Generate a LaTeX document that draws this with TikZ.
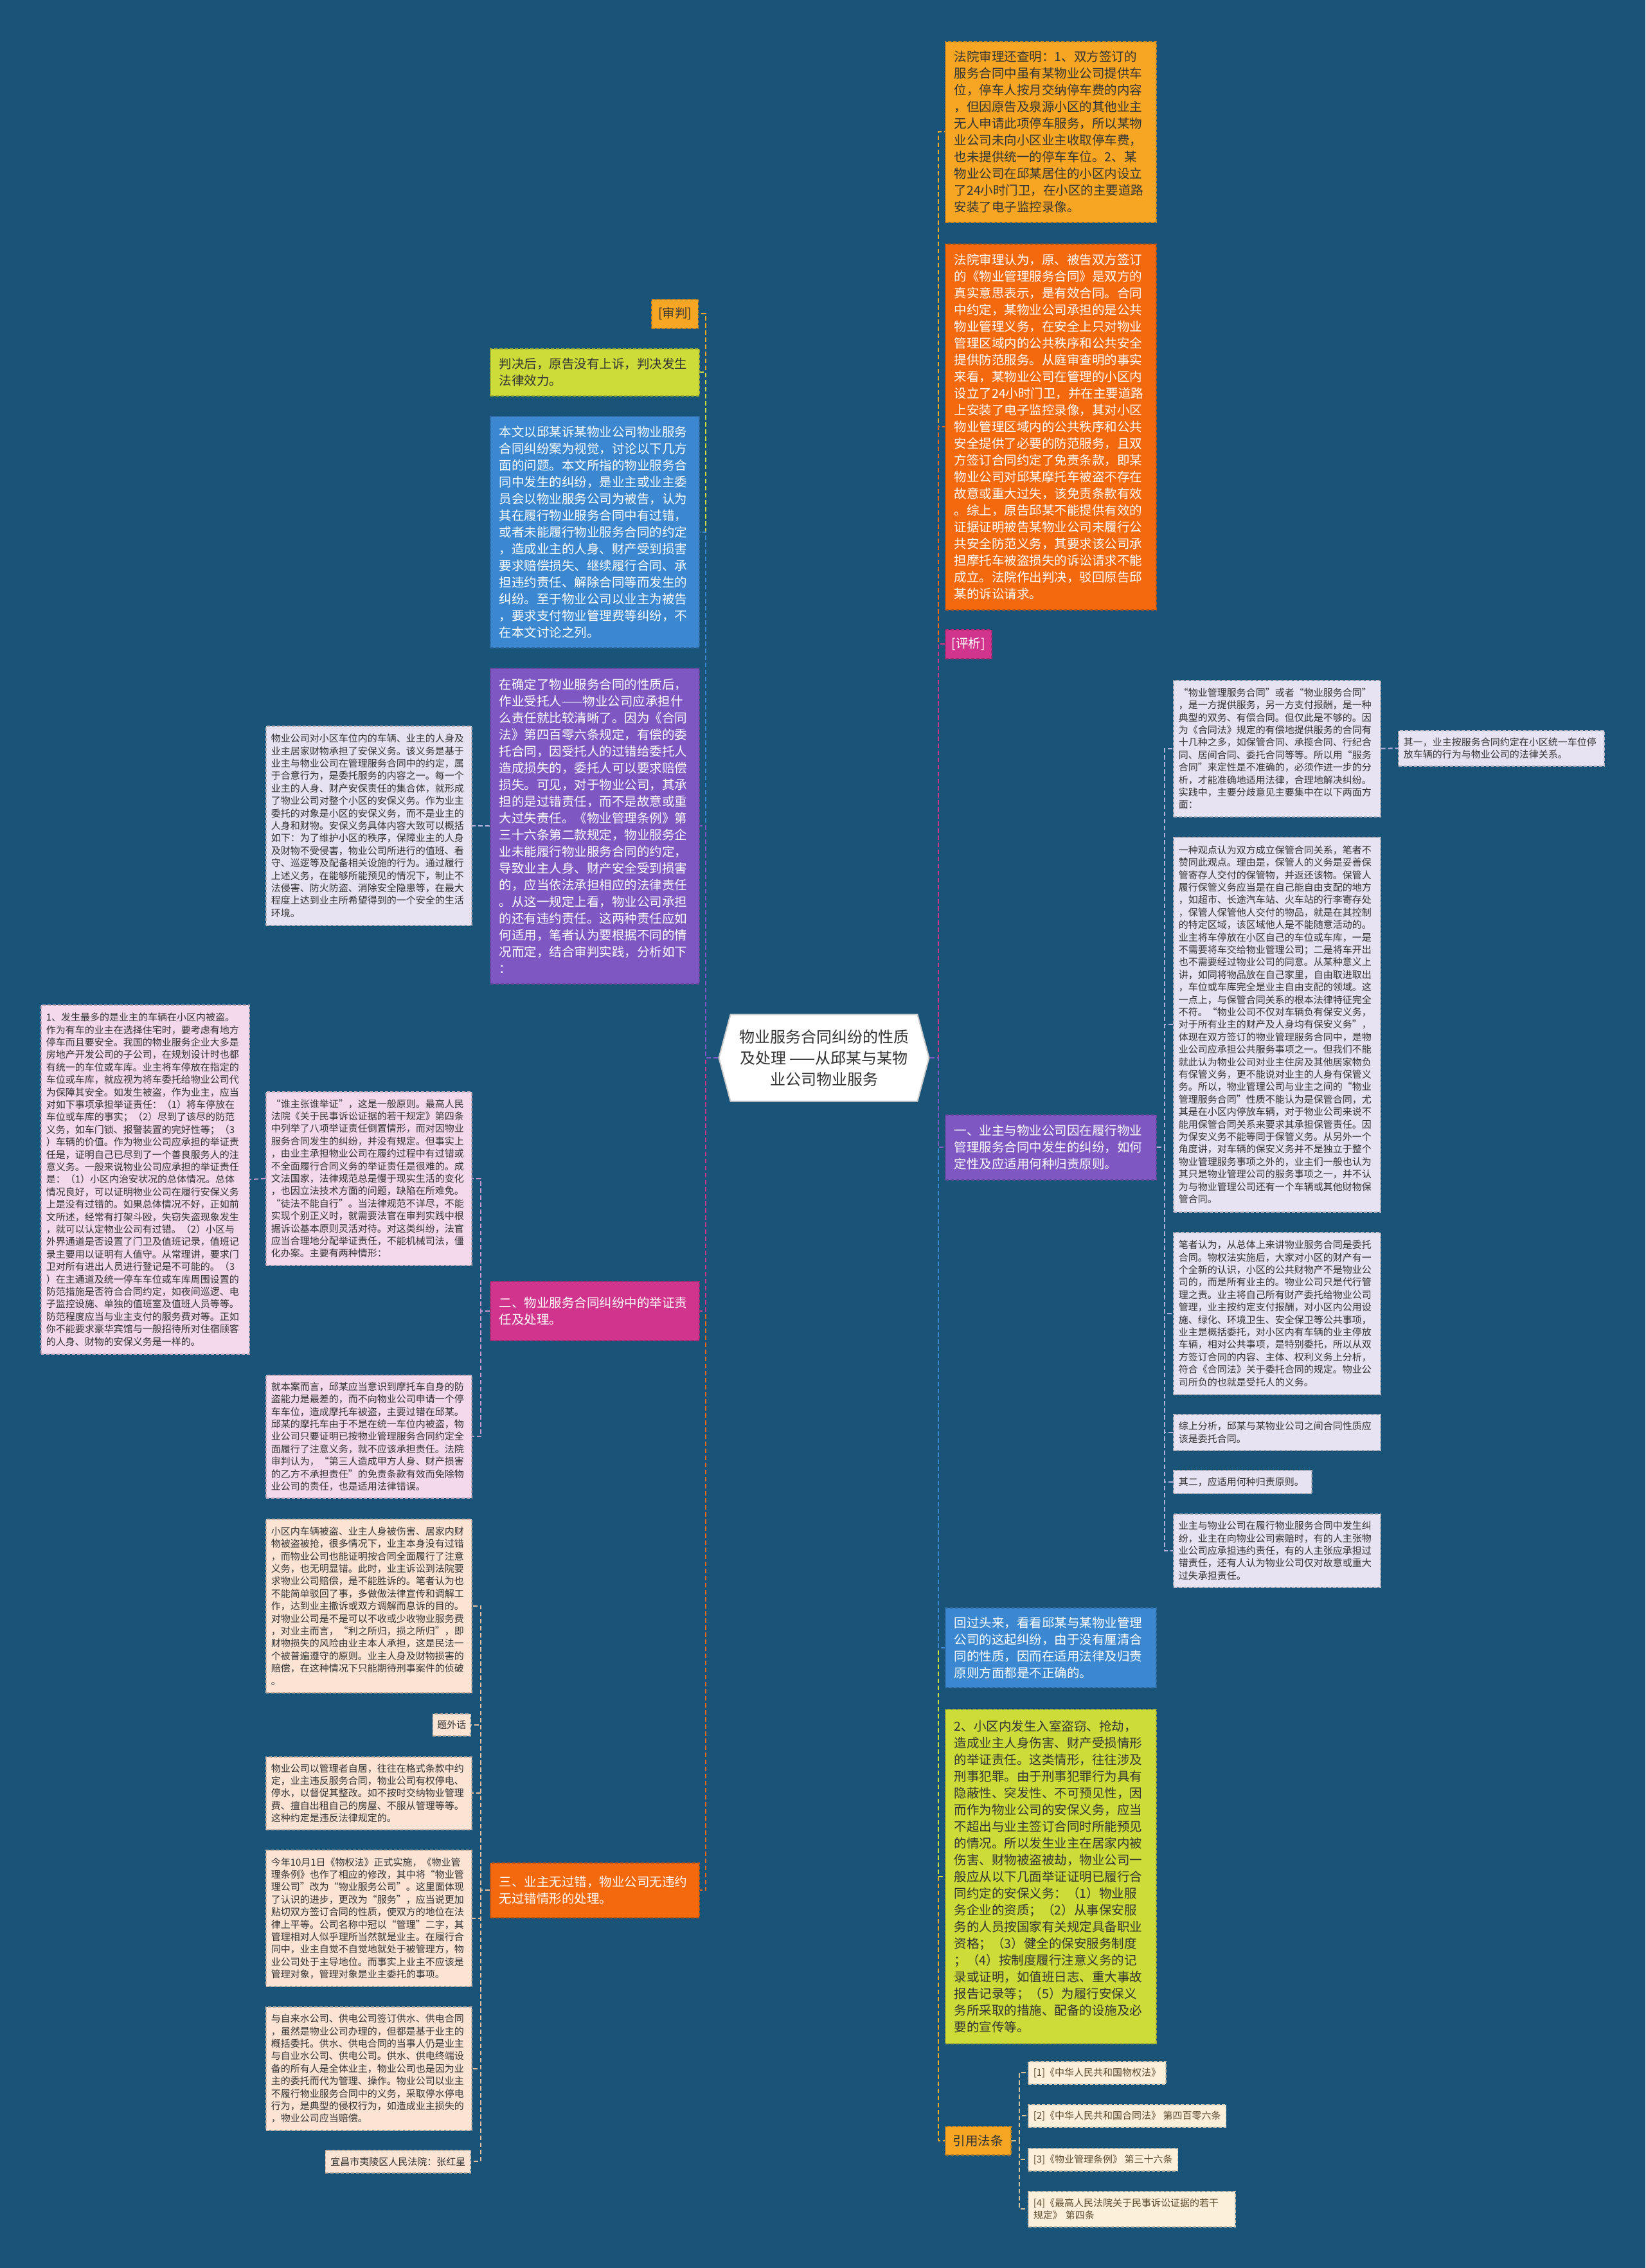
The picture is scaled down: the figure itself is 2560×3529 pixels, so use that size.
\documentclass[tikz,border=0pt]{standalone}
\usepackage{fontspec}
\setmainfont{Noto Sans CJK SC}
\usetikzlibrary{shapes.symbols}

\definecolor{cBg}{HTML}{1A5378}
\definecolor{cAmber}{HTML}{F6A623}
\definecolor{cFlame}{HTML}{F5690E}
\definecolor{cLime}{HTML}{CDDC39}
\definecolor{cSky}{HTML}{3B87D0}
\definecolor{cPurple}{HTML}{7E57C2}
\definecolor{cRose}{HTML}{D1348C}
\definecolor{cLav}{HTML}{E7E3F3}
\definecolor{cBlush}{HTML}{F4D8EC}
\definecolor{cPeach}{HTML}{FCE4D5}
\definecolor{cCream}{HTML}{FDF0DB}
\definecolor{cInk}{HTML}{333333}
\definecolor{cBrown}{HTML}{5B4A2E}
\definecolor{cLavLine}{HTML}{B4AEDC}
\definecolor{cBlushLine}{HTML}{C99AD0}
\definecolor{cPeachLine}{HTML}{E7C0A2}
\definecolor{cCreamLine}{HTML}{D5C197}

\newcommand{\mainsize}{\fontsize{19.5pt}{26pt}\selectfont}
\newcommand{\notesize}{\fontsize{15pt}{19.4pt}\selectfont}
\newcommand{\hubsize}{\fontsize{24pt}{33pt}\selectfont}

\tikzset{
  card/.style={anchor=north west, align=left, inner xsep=14pt, inner ysep=0pt,
    font=\mainsize, text=cInk, fill=#1, draw=#1!80!black, line width=1.5pt,
    dash pattern=on 5pt off 3pt},
  note/.style={card=#1, font=\notesize, inner xsep=8pt},
  link/.style={draw=#1, line width=2pt, dash pattern=on 7pt off 4pt},
  hub/.style={signal, signal to=east and west, signal pointer angle=150,
    fill=white, draw=gray!40, line width=2pt, font=\hubsize, align=center,
    text=cInk, minimum width=327pt, minimum height=135pt},
}

\begin{document}
\begin{tikzpicture}[x=1pt,y=-1pt]
\fill[cBg] (0,0) rectangle (2560,3529);
\useasboundingbox (0,0) rectangle (2560,3529);

% centre
\node[hub] (ctr) at (1282,1646) {物业服务合同纠纷的性质\\及处理 ——从邱某与某物\\业公司物业服务};
\coordinate (trunkL) at (1098,0);
\coordinate (trunkR) at (1460,0);

% right side, first level
\node[card=cAmber, text width=300pt, minimum height=281pt] (R1) at (1470,64) {法院审理还查明：1、双方签订的\\服务合同中虽有某物业公司提供车\\位，停车人按月交纳停车费的内容\\，但因原告及泉源小区的其他业主\\无人申请此项停车服务，所以某物\\业公司未向小区业主收取停车费，\\也未提供统一的停车车位。2、某\\物业公司在邱某居住的小区内设立\\了24小时门卫，在小区的主要道路\\安装了电子监控录像。};
\node[card=cFlame, text=white, text width=300pt, minimum height=569pt] (R2) at (1470,379) {法院审理认为，原、被告双方签订\\的《物业管理服务合同》是双方的\\真实意思表示，是有效合同。合同\\中约定，某物业公司承担的是公共\\物业管理义务，在安全上只对物业\\管理区域内的公共秩序和公共安全\\提供防范服务。从庭审查明的事实\\来看，某物业公司在管理的小区内\\设立了24小时门卫，并在主要道路\\上安装了电子监控录像，其对小区\\物业管理区域内的公共秩序和公共\\安全提供了必要的防范服务，且双\\方签订合同约定了免责条款，即某\\物业公司对邱某摩托车被盗不存在\\故意或重大过失，该免责条款有效\\。综上，原告邱某不能提供有效的\\证据证明被告某物业公司未履行公\\共安全防范义务，其要求该公司承\\担摩托车被盗损失的诉讼请求不能\\成立。法院作出判决，驳回原告邱\\某的诉讼请求。};
\node[card=cRose, text=white, inner xsep=10pt, minimum height=45pt] (R3) at (1470,979) {[评析]};
\node[card=cPurple, text=white, text width=300pt, minimum height=101pt] (R4) at (1470,1734) {一、业主与物业公司因在履行物业\\管理服务合同中发生的纠纷，如何\\定性及应适用何种归责原则。};
\node[card=cSky, text=white, text width=300pt, minimum height=124pt] (R5) at (1470,2501) {回过头来，看看邱某与某物业管理\\公司的这起纠纷，由于没有厘清合\\同的性质，因而在适用法律及归责\\原则方面都是不正确的。};
\node[card=cLime, text width=300pt, minimum height=520pt] (R6) at (1470,2659) {2、小区内发生入室盗窃、抢劫，\\造成业主人身伤害、财产受损情形\\的举证责任。这类情形，往往涉及\\刑事犯罪。由于刑事犯罪行为具有\\隐蔽性、突发性、不可预见性，因\\而作为物业公司的安保义务，应当\\不超出与业主签订合同时所能预见\\的情况。所以发生业主在居家内被\\伤害、财物被盗被劫，物业公司一\\般应从以下几面举证证明已履行合\\同约定的安保义务：（1）物业服\\务企业的资质；（2）从事保安服\\务的人员按国家有关规定具备职业\\资格；（3）健全的保安服务制度\\；（4）按制度履行注意义务的记\\录或证明，如值班日志、重大事故\\报告记录等；（5）为履行安保义\\务所采取的措施、配备的设施及必\\要的宣传等。};
\node[card=cAmber, inner xsep=12pt, minimum height=44pt] (R7) at (1470,3308) {引用法条};

% left side, first level
\node[card=cAmber, anchor=north east, inner xsep=10pt, minimum height=45pt] (L1) at (1087,465) {[审判]};
\node[card=cLime, text width=297pt, minimum height=73pt] (L2) at (762,542) {判决后，原告没有上诉，判决发生\\法律效力。};
\node[card=cSky, text=white, text width=297pt, minimum height=360pt] (L3) at (762,647) {本文以邱某诉某物业公司物业服务\\合同纠纷案为视觉，讨论以下几方\\面的问题。本文所指的物业服务合\\同中发生的纠纷，是业主或业主委\\员会以物业服务公司为被告，认为\\其在履行物业服务合同中有过错，\\或者未能履行物业服务合同的约定\\，造成业主的人身、财产受到损害\\要求赔偿损失、继续履行合同、承\\担违约责任、解除合同等而发生的\\纠纷。至于物业公司以业主为被告\\，要求支付物业管理费等纠纷，不\\在本文讨论之列。};
\node[card=cPurple, text=white, text width=297pt, minimum height=491pt] (L4) at (762,1039) {在确定了物业服务合同的性质后，\\作业受托人——物业公司应承担什\\么责任就比较清晰了。因为《合同\\法》第四百零六条规定，有偿的委\\托合同，因受托人的过错给委托人\\造成损失的，委托人可以要求赔偿\\损失。可见，对于物业公司，其承\\担的是过错责任，而不是故意或重\\大过失责任。《物业管理条例》第\\三十六条第二款规定，物业服务企\\业未能履行物业服务合同的约定，\\导致业主人身、财产安全受到损害\\的，应当依法承担相应的法律责任\\。从这一规定上看，物业公司承担\\的还有违约责任。这两种责任应如\\何适用，笔者认为要根据不同的情\\况而定，结合审判实践，分析如下\\：};
\node[card=cRose, text=white, text width=297pt, minimum height=92pt] (L5) at (762,1993) {二、物业服务合同纠纷中的举证责\\任及处理。};
\node[card=cFlame, text=white, text width=297pt, minimum height=85pt] (L6) at (762,2898) {三、业主无过错，物业公司无违约\\无过错情形的处理。};

% right side, second level
\node[note=cLav, text width=306pt, minimum height=212pt] (A1) at (1825,1058) {“物业管理服务合同”或者“物业服务合同”\\，是一方提供服务，另一方支付报酬，是一种\\典型的双务、有偿合同。但仅此是不够的。因\\为《合同法》规定的有偿地提供服务的合同有\\十几种之多，如保管合同、承揽合同、行纪合\\同、居间合同、委托合同等等。所以用“服务\\合同”来定性是不准确的，必须作进一步的分\\析，才能准确地适用法律，合理地解决纠纷。\\实践中，主要分歧意见主要集中在以下两面方\\面：};
\node[note=cLav, text width=304pt, minimum height=55pt] (A7) at (2175,1136) {其一，业主按服务合同约定在小区统一车位停\\放车辆的行为与物业公司的法律关系。};
\node[note=cLav, text width=306pt, minimum height=583pt] (A2) at (1825,1302) {一种观点认为双方成立保管合同关系，笔者不\\赞同此观点。理由是，保管人的义务是妥善保\\管寄存人交付的保管物，并返还该物。保管人\\履行保管义务应当是在自己能自由支配的地方\\，如超市、长途汽车站、火车站的行李寄存处\\，保管人保管他人交付的物品，就是在其控制\\的特定区域，该区域他人是不能随意活动的。\\业主将车停放在小区自己的车位或车库，一是\\不需要将车交给物业管理公司；二是将车开出\\也不需要经过物业公司的同意。从某种意义上\\讲，如同将物品放在自己家里，自由取进取出\\，车位或车库完全是业主自由支配的领域。这\\一点上，与保管合同关系的根本法律特征完全\\不符。“物业公司不仅对车辆负有保安义务，\\对于所有业主的财产及人身均有保安义务”，\\体现在双方签订的物业管理服务合同中，是物\\业公司应承担公共服务事项之一。但我们不能\\就此认为物业公司对业主住房及其他居家物负\\有保管义务，更不能说对业主的人身有保管义\\务。所以，物业管理公司与业主之间的“物业\\管理服务合同”性质不能认为是保管合同，尤\\其是在小区内停放车辆，对于物业公司来说不\\能用保管合同关系来要求其承担保管责任。因\\为保安义务不能等同于保管义务。从另外一个\\角度讲，对车辆的保安义务并不是独立于整个\\物业管理服务事项之外的，业主们一般也认为\\其只是物业管理公司的服务事项之一，并不认\\为与物业管理公司还有一个车辆或其他财物保\\管合同。};
\node[note=cLav, text width=306pt, minimum height=252pt] (A3) at (1825,1917) {笔者认为，从总体上来讲物业服务合同是委托\\合同。物权法实施后，大家对小区的财产有一\\个全新的认识，小区的公共财物产不是物业公\\司的，而是所有业主的。物业公司只是代行管\\理之责。业主将自己所有财产委托给物业公司\\管理，业主按约定支付报酬，对小区内公用设\\施、绿化、环境卫生、安全保卫等公共事项，\\业主是概括委托，对小区内有车辆的业主停放\\车辆，相对公共事项，是特别委托，所以从双\\方签订合同的内容、主体、权利义务上分析，\\符合《合同法》关于委托合同的规定。物业公\\司所负的也就是受托人的义务。};
\node[note=cLav, text width=306pt, minimum height=56pt] (A4) at (1825,2200) {综上分析，邱某与某物业公司之间合同性质应\\该是委托合同。};
\node[note=cLav, text width=199pt, minimum height=36pt] (A5) at (1825,2287) {其二，应适用何种归责原则。};
\node[note=cLav, text width=306pt, minimum height=114pt] (A6) at (1825,2355) {业主与物业公司在履行物业服务合同中发生纠\\纷，业主在向物业公司索赔时，有的人主张物\\业公司应承担违约责任，有的人主张应承担过\\错责任，还有人认为物业公司仅对故意或重大\\过失承担责任。};

% citations
\node[note=cCream, text=cBrown, minimum height=35pt] (C1) at (1599,3207) {[1]《中华人民共和国物权法》};
\node[note=cCream, text=cBrown, minimum height=35pt] (C2) at (1599,3274) {[2]《中华人民共和国合同法》 第四百零六条};
\node[note=cCream, text=cBrown, minimum height=35pt] (C3) at (1599,3342) {[3]《物业管理条例》 第三十六条};
\node[note=cCream, text=cBrown, text width=306pt, minimum height=55pt] (C4) at (1599,3409) {[4]《最高人民法院关于民事诉讼证据的若干\\规定》 第四条};

% left side, second and third level
\node[note=cLav, text width=304pt, minimum height=310pt] (S1) at (413,1129) {物业公司对小区车位内的车辆、业主的人身及\\业主居家财物承担了安保义务。该义务是基于\\业主与物业公司在管理服务合同中的约定，属\\于合意行为，是委托服务的内容之一。每一个\\业主的人身、财产安保责任的集合体，就形成\\了物业公司对整个小区的安保义务。作为业主\\委托的对象是小区的安保义务，而不是业主的\\人身和财物。安保义务具体内容大致可以概括\\如下：为了维护小区的秩序，保障业主的人身\\及财物不受侵害，物业公司所进行的值班、看\\守、巡逻等及配备相关设施的行为。通过履行\\上述义务，在能够所能预见的情况下，制止不\\法侵害、防火防盗、消除安全隐患等，在最大\\程度上达到业主所希望得到的一个安全的生活\\环境。};
\node[note=cBlush, text width=304pt, minimum height=270pt] (P1) at (413,1698) {“谁主张谁举证”，这是一般原则。最高人民\\法院《关于民事诉讼证据的若干规定》第四条\\中列举了八项举证责任倒置情形，而对因物业\\服务合同发生的纠纷，并没有规定。但事实上\\，由业主承担物业公司在履约过程中有过错或\\不全面履行合同义务的举证责任是很难的。成\\文法国家，法律规范总是慢于现实生活的变化\\，也因立法技术方面的问题，缺陷在所难免。\\“徒法不能自行”。当法律规范不详尽，不能\\实现个别正义时，就需要法官在审判实践中根\\据诉讼基本原则灵活对待。对这类纠纷，法官\\应当合理地分配举证责任，不能机械司法，僵\\化办案。主要有两种情形：};
\node[note=cBlush, text width=308pt, minimum height=543pt] (F1) at (63,1563) {1、发生最多的是业主的车辆在小区内被盗。\\作为有车的业主在选择住宅时，要考虑有地方\\停车而且要安全。我国的物业服务企业大多是\\房地产开发公司的子公司，在规划设计时也都\\有统一的车位或车库。业主将车停放在指定的\\车位或车库，就应视为将车委托给物业公司代\\为保障其安全。如发生被盗，作为业主，应当\\对如下事项承担举证责任：（1）将车停放在\\车位或车库的事实；（2）尽到了该尽的防范\\义务，如车门锁、报警装置的完好性等；（3\\）车辆的价值。作为物业公司应承担的举证责\\任是，证明自己已尽到了一个善良服务人的注\\意义务。一般来说物业公司应承担的举证责任\\是：（1）小区内治安状况的总体情况。总体\\情况良好，可以证明物业公司在履行安保义务\\上是没有过错的。如果总体情况不好，正如前\\文所述，经常有打架斗殴，失窃失盗现象发生\\，就可以认定物业公司有过错。（2）小区与\\外界通道是否设置了门卫及值班记录，值班记\\录主要用以证明有人值守。从常理讲，要求门\\卫对所有进出人员进行登记是不可能的。（3\\）在主通道及统一停车车位或车库周围设置的\\防范措施是否符合合同约定，如夜间巡逻、电\\子监控设施、单独的值班室及值班人员等等。\\防范程度应当与业主支付的服务费对等。正如\\你不能要求豪华宾馆与一般招待所对住宿顾客\\的人身、财物的安保义务是一样的。};
\node[note=cBlush, text width=304pt, minimum height=191pt] (P2) at (413,2139) {就本案而言，邱某应当意识到摩托车自身的防\\盗能力是最差的，而不向物业公司申请一个停\\车车位，造成摩托车被盗，主要过错在邱某。\\邱某的摩托车由于不是在统一车位内被盗，物\\业公司只要证明已按物业管理服务合同约定全\\面履行了注意义务，就不应该承担责任。法院\\审判认为，“第三人造成甲方人身、财产损害\\的乙方不承担责任”的免责条款有效而免除物\\业公司的责任，也是适用法律错误。};
\node[note=cPeach, text width=304pt, minimum height=270pt] (Q1) at (413,2363) {小区内车辆被盗、业主人身被伤害、居家内财\\物被盗被抢，很多情况下，业主本身没有过错\\，而物业公司也能证明按合同全面履行了注意\\义务，也无明显错。此时，业主诉讼到法院要\\求物业公司赔偿，是不能胜诉的。笔者认为也\\不能简单驳回了事，多做做法律宣传和调解工\\作，达到业主撤诉或双方调解而息诉的目的。\\对物业公司是不是可以不收或少收物业服务费\\，对业主而言，“利之所归，损之所归”，即\\财物损失的风险由业主本人承担，这是民法一\\个被普遍遵守的原则。业主人身及财物损害的\\赔偿，在这种情况下只能期待刑事案件的侦破\\。};
\node[note=cPeach, anchor=north east, inner xsep=7pt, minimum height=34pt] (Q2) at (733,2666) {题外话};
\node[note=cPeach, text width=304pt, minimum height=113pt] (Q3) at (413,2733) {物业公司以管理者自居，往往在格式条款中约\\定，业主违反服务合同，物业公司有权停电、\\停水，以督促其整改。如不按时交纳物业管理\\费、擅自出租自己的房屋、不服从管理等等。\\这种约定是违反法律规定的。};
\node[note=cPeach, text width=304pt, minimum height=212pt] (Q4) at (413,2878) {今年10月1日《物权法》正式实施，《物业管\\理条例》也作了相应的修改，其中将“物业管\\理公司”改为“物业服务公司”。这里面体现\\了认识的进步，更改为“服务”，应当说更加\\贴切双方签订合同的性质，使双方的地位在法\\律上平等。公司名称中冠以“管理”二字，其\\管理相对人似乎理所当然就是业主。在履行合\\同中，业主自觉不自觉地就处于被管理方，物\\业公司处于主导地位。而事实上业主不应该是\\管理对象，管理对象是业主委托的事项。};
\node[note=cPeach, text width=304pt, minimum height=192pt] (Q5) at (413,3122) {与自来水公司、供电公司签订供水、供电合同\\，虽然是物业公司办理的，但都是基于业主的\\概括委托。供水、供电合同的当事人仍是业主\\与自业水公司、供电公司。供水、供电终端设\\备的所有人是全体业主，物业公司也是因为业\\主的委托而代为管理、操作。物业公司以业主\\不履行物业服务合同中的义务，采取停水停电\\行为，是典型的侵权行为，如造成业主损失的\\，物业公司应当赔偿。};
\node[note=cPeach, anchor=north east, minimum height=35pt] (Q6) at (733,3345) {宜昌市夷陵区人民法院：张红星};

% first level connectors
\foreach \n/\c in {R1/cAmber,R2/cFlame,R7/cAmber,R6/cLime,R3/cRose,R5/cSky,R4/cPurple}
  \draw[link=\c] (ctr.east) -- (ctr.east -| trunkR) |- (\n.west);
\foreach \n/\c in {L1/cAmber,L2/cLime,L6/cFlame,L3/cSky,L5/cRose,L4/cPurple}
  \draw[link=\c] (ctr.west) -- (ctr.west -| trunkL) |- (\n.east);

% second level connectors
\coordinate (jR4) at (1812,0);
\foreach \n in {A1,A2,A3,A4,A5,A6}
  \draw[link=cLavLine] (R4.east) -- (R4.east -| jR4) |- (\n.west);
\draw[link=cLavLine] (A1.east) -- (A7.west);
\coordinate (jR7) at (1586,0);
\foreach \n in {C1,C2,C3,C4}
  \draw[link=cCreamLine] (R7.east) -- (R7.east -| jR7) |- (\n.west);
\draw[link=cLavLine] (L4.west) -- (S1.east);
\coordinate (jL5) at (748,0);
\foreach \n in {P1,P2}
  \draw[link=cBlushLine] (L5.west) -- (L5.west -| jL5) |- (\n.east);
\draw[link=cBlushLine] (P1.west) -- (F1.east);
\foreach \n in {Q1,Q2,Q3,Q4,Q5,Q6}
  \draw[link=cPeachLine] (L6.west) -- (L6.west -| jL5) |- (\n.east);
\end{tikzpicture}
\end{document}
